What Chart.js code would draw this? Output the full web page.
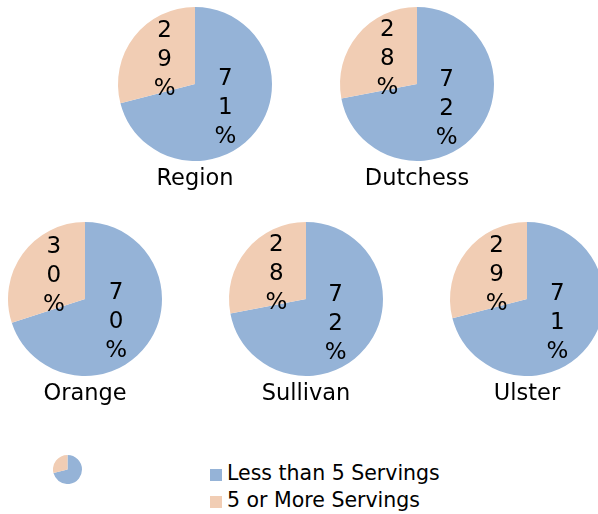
<!DOCTYPE html>
<html>
<head>
<meta charset="utf-8">
<script src="https://cdn.jsdelivr.net/npm/chart.js@4"></script>
<style>
    html, body {
        margin: 0;
        padding: 0;
        width: 598px;
        height: 514px;
        overflow: hidden;
        background: #fff;
        font-family: "DejaVu Sans", sans-serif;
    }
    canvas {
        position: absolute;
    }
    .legend {
        position: absolute;
        left: 210px;
        top: 460px;
        font-size: 20.5px;
        color: #000;
    }
    .legend-item {
        height: 27px;
        line-height: 27px;
        white-space: nowrap;
    }
    .legend-item span {
        display: inline-block;
        width: 12px;
        height: 12px;
        margin-right: 5px;
        vertical-align: -1px;
    }
</style>
</head>
<body>

<canvas id="pieRegion" width="170" height="192" style="left:110px; top:4px"></canvas>
<canvas id="pieDutchess" width="170" height="192" style="left:332px; top:4px"></canvas>
<canvas id="pieOrange" width="170" height="192" style="left:0px; top:219px"></canvas>
<canvas id="pieSullivan" width="170" height="192" style="left:221px; top:219px"></canvas>
<canvas id="pieUlster" width="170" height="192" style="left:442px; top:219px"></canvas>
<canvas id="pieMini" width="29" height="29" style="left:53px; top:455px"></canvas>

<div class="legend" id="legend"></div>

<script>
const series = ["Less than 5 Servings", "5 or More Servings"];
const colores = ["#95B3D7", "#F1CDB4"];

const regiones = ["Region", "Dutchess", "Orange", "Sullivan", "Ulster"];
const menosDe5 = [71, 72, 70, 72, 71];
const cincoOMas = [29, 28, 30, 28, 29];

const canvasIds = ["pieRegion", "pieDutchess", "pieOrange", "pieSullivan", "pieUlster"];

const FONT = "'DejaVu Sans', sans-serif";

// each percentage is written one character per line, like the narrow excel labels
const etiquetasPlugin = {
    id: "etiquetas",
    afterDatasetsDraw(chart) {
        const ctx = chart.ctx;
        const meta = chart.getDatasetMeta(0);
        const valores = chart.data.datasets[0].data;

        ctx.save();
        ctx.font = "23px " + FONT;
        ctx.fillStyle = "#000";
        ctx.textAlign = "center";
        ctx.textBaseline = "middle";

        meta.data.forEach((arc, i) => {
            const pos = arc.tooltipPosition();
            const chars = (valores[i] + "%").split("");
            const alto = 29;
            const inicio = pos.y - (chars.length - 1) * alto / 2;
            chars.forEach((c, j) => {
                ctx.fillText(c, pos.x, inicio + j * alto);
            });
        });

        ctx.restore();
    }
};

function renderPie(id, titulo, valores) {

    new Chart(document.getElementById(id), {
        type: "pie",
        data: {
            labels: series,
            datasets: [{
                data: valores,
                backgroundColor: colores,
                borderWidth: 0
            }]
        },
        options: {
            responsive: false,
            animation: false,
            events: [],
            layout: {
                padding: { top: 3, left: 8, right: 8, bottom: 1 }
            },
            plugins: {
                legend: { display: false },
                tooltip: { enabled: false },
                title: {
                    display: true,
                    text: titulo,
                    position: "bottom",
                    color: "#000",
                    font: { family: FONT, size: 22.5, weight: "normal" },
                    padding: { top: 5, bottom: 2 }
                }
            }
        },
        plugins: [etiquetasPlugin]
    });

}

regiones.forEach((r, i) => {
    renderPie(canvasIds[i], r, [menosDe5[i], cincoOMas[i]]);
});

// tiny pie next to the legend
new Chart(document.getElementById("pieMini"), {
    type: "pie",
    data: {
        labels: series,
        datasets: [{
            data: [menosDe5[0], cincoOMas[0]],
            backgroundColor: colores,
            borderWidth: 0
        }]
    },
    options: {
        responsive: false,
        animation: false,
        events: [],
        plugins: {
            legend: { display: false },
            tooltip: { enabled: false }
        }
    }
});

const legend = document.getElementById("legend");
legend.innerHTML = series.map((s, i) =>
    `<div class="legend-item"><span style="background:${colores[i]}"></span>${s}</div>`
).join("");
</script>

</body>
</html>
